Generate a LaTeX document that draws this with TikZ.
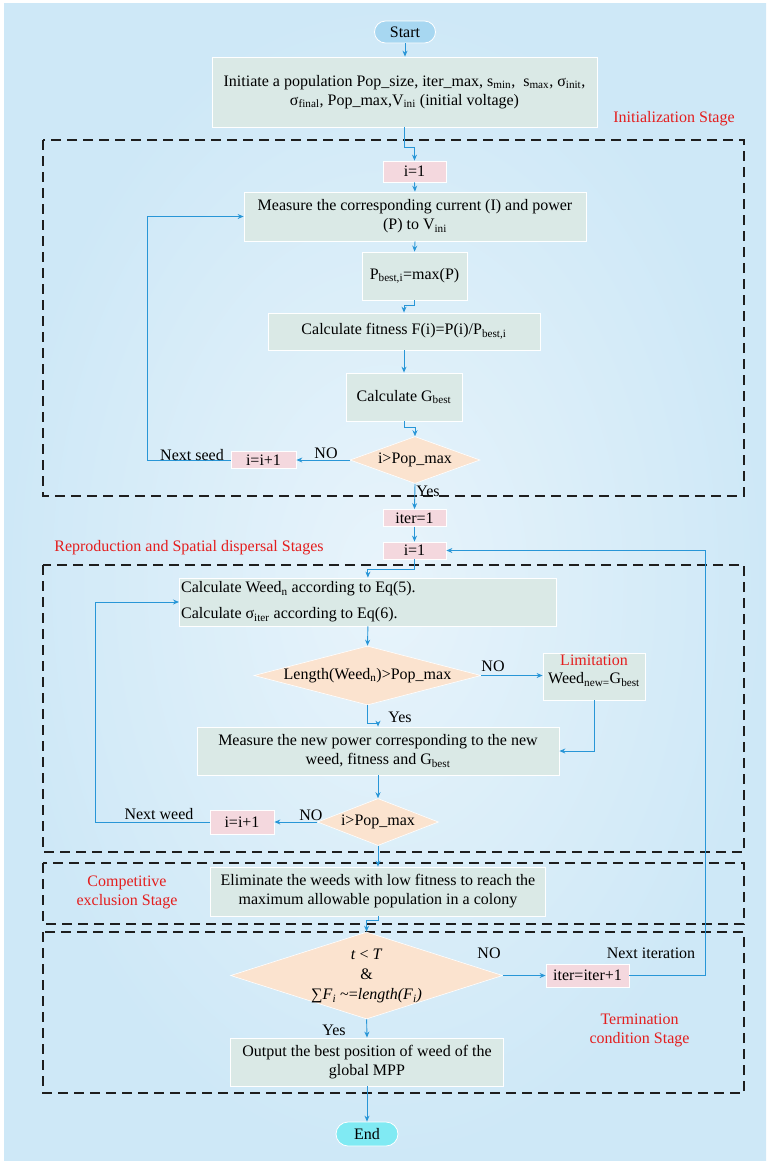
\documentclass[tikz,border=0pt]{standalone}
\usepackage{fontspec}
\setmainfont{Liberation Serif}
\usetikzlibrary{arrows.meta,shapes.geometric,calc}
\definecolor{bgout}{RGB}{206,232,247}
\definecolor{bgin}{RGB}{232,244,251}
\definecolor{boxc}{RGB}{218,233,230}
\definecolor{pinkc}{RGB}{244,216,222}
\definecolor{peachc}{RGB}{251,227,207}
\definecolor{startc}{RGB}{167,215,241}
\definecolor{endc}{RGB}{128,234,243}
\definecolor{arrowc}{RGB}{40,150,215}
\definecolor{redc}{RGB}{228,30,30}
\definecolor{dashc}{RGB}{30,30,30}
\tikzset{
  box/.style={draw=white, line width=0.8pt, fill=boxc, inner sep=0pt, align=center},
  pbox/.style={draw=white, line width=0.8pt, fill=pinkc, inner sep=0pt, align=center},
  dbox/.style={diamond, fill=peachc, draw=white, line width=0.6pt, inner sep=0pt},
  term/.style={draw=white, line width=0.8pt, rounded corners=11pt, inner sep=0pt, align=center},
  arr/.style={draw=arrowc, line width=0.9pt, -{Stealth[length=6pt,width=5pt]}},
  lbl/.style={inner sep=0pt, align=center},
  stage/.style={inner sep=0pt, align=center, text=redc},
  stagebox/.style={draw=dashc, line width=1.8pt, dash pattern=on 10pt off 6pt},
}
\begin{document}
\begin{tikzpicture}[x=1pt,y=-1pt,font=\fontsize{16}{19}\selectfont]
\useasboundingbox (0,0) rectangle (769,1163);
\shade[inner color=bgin, outer color=bgout] (4,3) rectangle (766,1160);

% stage boxes
\draw[stagebox] (43,140) rectangle (744,496);
\draw[stagebox] (43,565) rectangle (744,852);
\draw[stagebox] (43,863) rectangle (744,924);
\draw[stagebox] (43,932) rectangle (744,1093);

% nodes
\node[term, fill=startc, minimum width=61pt, minimum height=22pt] (start) at (405,32) {Start};
\node[box, minimum width=385pt, minimum height=70pt] (init) at (404.5,92)
  {Initiate a population Pop\_size, iter\_max, s\textsubscript{min}, \ s\textsubscript{max}, σ\textsubscript{init},\\
   σ\textsubscript{final}, Pop\_max,V\textsubscript{ini} (initial voltage)};
\node[pbox, minimum width=63pt, minimum height=21pt] (i1) at (414.5,171.5) {i=1};
\node[box, minimum width=342pt, minimum height=49pt] (meas) at (415,216.5)
  {Measure the corresponding current (I) and power\\ (P) to V\textsubscript{ini}};
\node[box, minimum width=105pt, minimum height=48pt] (pb) at (414.5,276) {P\textsubscript{best,i}=max(P)};
\node[box, minimum width=272pt, minimum height=37pt] (cf) at (404,331.5) {Calculate fitness F(i)=P(i)/P\textsubscript{best,i}};
\node[box, minimum width=116pt, minimum height=48pt] (gb) at (404,397) {Calculate G\textsubscript{best}};
\node[dbox, minimum width=130pt, minimum height=47pt] (d1) at (415,460) {};
\node[lbl] (d1t) at (d1) {i>Pop\_max};
\node[pbox, minimum width=65pt, minimum height=17pt] (ii1) at (263.5,460) {i=i+1};
\node[pbox, minimum width=63pt, minimum height=17pt] (iter1) at (414.5,518) {iter=1};
\node[pbox, minimum width=63pt, minimum height=17pt] (i1b) at (414.5,550.5) {i=1};
\node[box, minimum width=377pt, minimum height=48pt, align=left, anchor=west] (cw) at (179,602) {};
\node[lbl, align=left, anchor=west] (cwt) at (181,602)
  {Calculate Weed\textsubscript{n} according to Eq(5).\\[7pt] Calculate σ\textsubscript{iter} according to Eq(6).};
\node[dbox, minimum width=227pt, minimum height=59pt] (d2) at (367.5,675.5) {};
\node[lbl] (d2t) at (d2) {Length(Weed\textsubscript{n})>Pop\_max};
\node[box, minimum width=102pt, minimum height=47pt] (lim) at (594,676.5) {};
\node[lbl] (limt) at (594,671) {\textcolor{redc}{Limitation}\\[-1pt]Weed\textsubscript{new=}G\textsubscript{best}};
\node[box, minimum width=362pt, minimum height=48pt] (mnew) at (378,751)
  {Measure the new power corresponding to the new\\ weed, fitness and G\textsubscript{best}};
\node[dbox, minimum width=121pt, minimum height=47pt] (d3) at (378,822) {};
\node[lbl] (d3t) at (d3) {i>Pop\_max};
\node[pbox, minimum width=64pt, minimum height=24pt] (ii2) at (242,822) {i=i+1};
\node[box, minimum width=335pt, minimum height=49pt] (elim) at (378,891.5)
  {Eliminate the weeds with low fitness to reach the\\ maximum allowable population in a colony};
\node[dbox, minimum width=272pt, minimum height=87pt] (d4) at (366.6,975.5) {};
\node[lbl] (d4t) at (366.6,976) {\textit{t} < \textit{T}\\[1pt] \&\\[1pt] ∑\textit{F}\textsubscript{\textit{i}} \textasciitilde=\textit{length(F}\textsubscript{\textit{i}}\textit{)}};
\node[pbox, minimum width=83pt, minimum height=23pt] (iterp) at (587.5,975.5) {iter=iter+1};
\node[box, minimum width=273pt, minimum height=48pt] (out) at (367,1062)
  {Output the best position of weed of the\\ global MPP};
\node[term, fill=endc, minimum width=62pt, minimum height=24pt, rounded corners=12pt] (end) at (367,1134) {End};

% stage labels
\node[stage] (s1) at (674,119) {Initialization Stage};
\node[stage] (s2) at (189,548) {Reproduction and Spatial dispersal Stages};
\node[stage] (s3) at (127,892) {Competitive\\ exclusion Stage};
\node[stage] (s4) at (639.5,1030.5) {Termination\\ condition Stage};

% connectors
\draw[arr] (start.south) -- (init.north -| start.south);
\draw[arr] (init.south) -- ++(0,20) -| (i1.north);
\draw[arr] (i1.south) -- (meas.north);
\draw[arr] (meas.south) -- (pb.north);
\draw[arr] (pb.south) -- ++(0,5) -| (cf.north);
\draw[arr] (cf.south) -- (gb.north);
\draw[arr] (gb.south) -- ++(0,6) -| (d1.north);
\draw[arr] (d1.west) -- (ii1.east);
\draw[arr] (ii1.west) -- ++(-83,0) |- (meas.west);
\draw[arr] (d1.south) -- (iter1.north);
\draw[arr] (iter1.south) -- (i1b.north);
\draw[arr] (i1b.south) -- ++(0,10) -| (cw.north);
\draw[arr] (cw.south) -- (d2.north);
\draw[arr] (d2.east) -- (lim.west |- d2.east);
\draw[arr] (lim.south) |- (mnew.east);
\draw[arr] (d2.south) -- ++(0,18) -| (mnew.north);
\draw[arr] (mnew.south) -- (d3.north);
\draw[arr] (d3.west) -- (ii2.east);
\draw[arr] (ii2.west) -- ++(-114,0) |- (cw.west);
\draw[arr] (d3.south) -- (elim.north);
\draw[arr] (elim.south) -- ++(0,4) -| (d4.north);
\draw[arr] (d4.east) -- (iterp.west);
\draw[arr] (iterp.east) -- ++(76,0) |- (i1b.east);
\draw[arr] (d4.south) -- (out.north);
\draw[arr] (out.south) -- (end.north);

% connector labels
\node[lbl] (no1) at (326,453) {NO};
\node[lbl] (ns) at (192,455) {Next seed};
\node[lbl] (yes1) at (428,491) {Yes};
\node[lbl] (no2) at (493,666) {NO};
\node[lbl] (yes2) at (400,717) {Yes};
\node[lbl] (nw) at (159,814) {Next weed};
\node[lbl] (no3) at (311,815) {NO};
\node[lbl] (no4) at (489,953) {NO};
\node[lbl] (ni) at (651,953) {Next iteration};
\node[lbl] (yes4) at (334,1030) {Yes};
\end{tikzpicture}
\end{document}
